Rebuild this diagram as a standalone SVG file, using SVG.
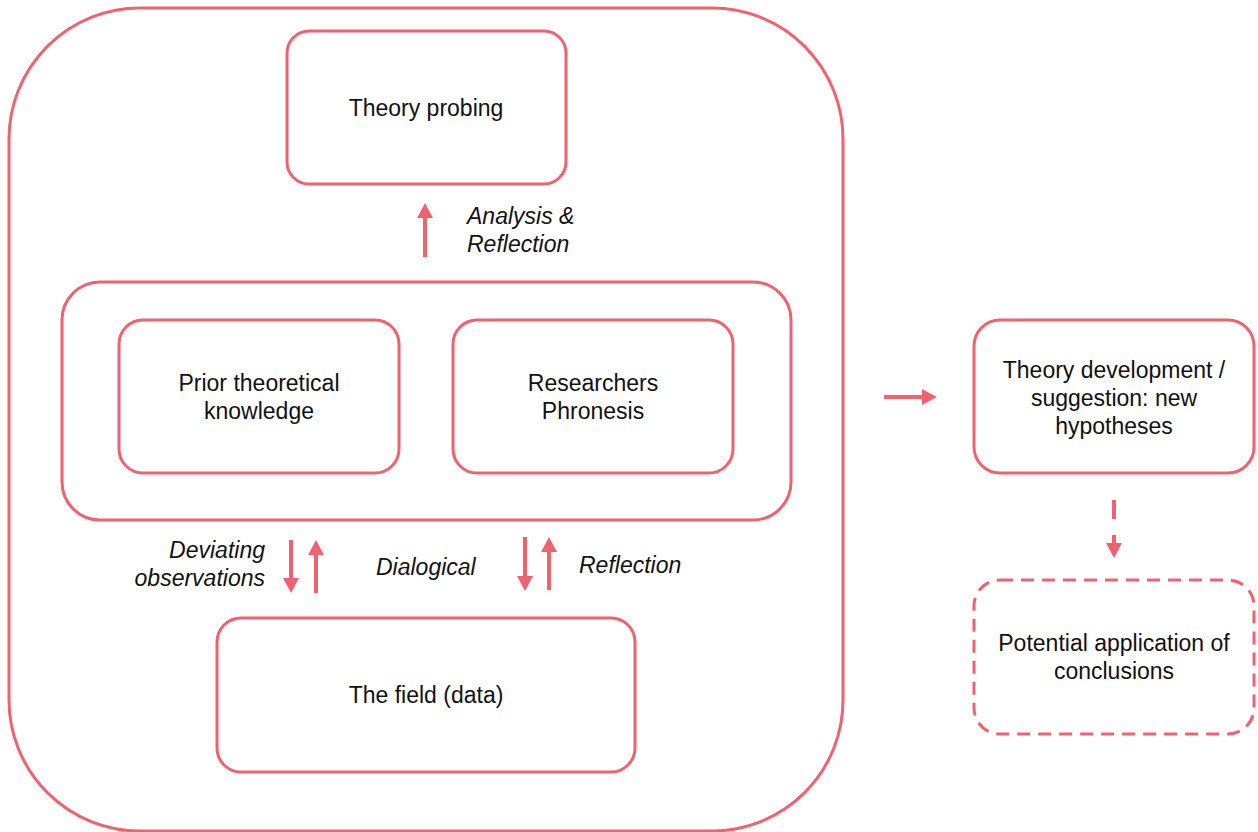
<svg xmlns="http://www.w3.org/2000/svg" width="1258" height="832" viewBox="0 0 1258 832">
<style>
.box{fill:none;stroke:#ee6370;stroke-width:3}
.dash{stroke-dasharray:13 8}
.t{font-family:"Liberation Sans",Arial,sans-serif;font-size:23px;fill:#111;text-anchor:middle}
.i{font-family:"Liberation Sans",Arial,sans-serif;font-size:23px;fill:#111;font-style:italic}
.ar{stroke:#ee6370;stroke-width:4;fill:none;marker-end:url(#h)}
</style>
<defs>
<marker id="h" markerUnits="userSpaceOnUse" markerWidth="15" markerHeight="16" refX="0" refY="8" orient="auto" viewBox="0 0 15 16">
<path d="M0,0 L15,8 L0,16 z" fill="#ee6370"/>
</marker>
</defs>
<rect width="1258" height="832" fill="#fff"/>
<g id="outer"><rect class="box" x="9" y="8" width="834" height="823" rx="131"/></g>
<g id="theory-probing"><rect class="box" x="287" y="31" width="279" height="153" rx="22"/><text class="t" x="426" y="116">Theory probing</text></g>
<g id="container"><rect class="box" x="62" y="282" width="729" height="238" rx="38"/></g>
<g id="prior"><rect class="box" x="119" y="320" width="280" height="153" rx="24"/><text class="t" x="259" y="391">Prior theoretical</text><text class="t" x="259" y="419">knowledge</text></g>
<g id="researchers"><rect class="box" x="453" y="320" width="280" height="153" rx="24"/><text class="t" x="593" y="391">Researchers</text><text class="t" x="593" y="419">Phronesis</text></g>
<g id="field"><rect class="box" x="217" y="618" width="418" height="154" rx="24"/><text class="t" x="426" y="703">The field (data)</text></g>
<g id="theory-dev"><rect class="box" x="974" y="320" width="280" height="153" rx="26"/><text class="t" x="1114" y="378">Theory development /</text><text class="t" x="1114" y="406">suggestion: new</text><text class="t" x="1114" y="434">hypotheses</text></g>
<g id="potential"><rect class="box dash" x="974" y="580" width="280" height="154" rx="26"/><text class="t" x="1114" y="651">Potential application of</text><text class="t" x="1114" y="679">conclusions</text></g>
<g id="connectors">
<line class="ar" x1="425" y1="257" x2="425" y2="218"/>
<line class="ar" x1="291" y1="540" x2="291" y2="578"/>
<line class="ar" x1="316" y1="593" x2="316" y2="555"/>
<line class="ar" x1="525" y1="537" x2="525" y2="576"/>
<line class="ar" x1="549" y1="590" x2="549" y2="552"/>
<line class="ar" x1="884" y1="397" x2="922" y2="397"/>
<line class="ar" x1="1114" y1="500" x2="1114" y2="543" style="stroke-dasharray:19 16"/>
</g>
<g id="labels">
<text class="i" x="467" y="224">Analysis &amp;</text>
<text class="i" x="467" y="252">Reflection</text>
<text class="i" x="265" y="558" text-anchor="end">Deviating</text>
<text class="i" x="265" y="586" text-anchor="end">observations</text>
<text class="i" x="376" y="575">Dialogical</text>
<text class="i" x="579" y="573">Reflection</text>
</g>
</svg>
